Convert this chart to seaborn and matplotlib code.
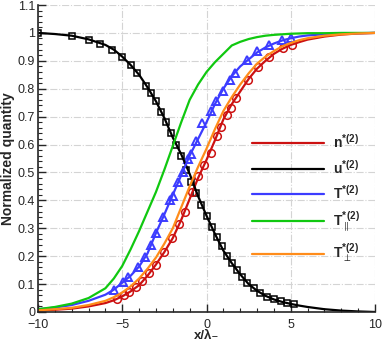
import numpy as np
import pandas as pd
import matplotlib
matplotlib.use('Agg')
import matplotlib.pyplot as plt
import seaborn as sns
from matplotlib.ticker import MultipleLocator

# profile curves (x/lambda)
x_line = [-10, -9, -8, -7, -6, -5.5, -5, -4.5, -4, -3.5, -3, -2.5, -2, -1.5, -1, -0.5,
          0, 0.5, 1, 1.5, 2, 2.5, 3, 3.5, 4, 4.5, 5, 5.5, 6, 7, 8, 9, 10]
n_line = [0.005, 0.008, 0.012, 0.02, 0.032, 0.042, 0.056, 0.074, 0.096, 0.13, 0.17, 0.215, 0.265,
          0.33, 0.405, 0.48, 0.545, 0.615, 0.69, 0.745, 0.79, 0.835, 0.872, 0.9, 0.925, 0.943,
          0.957, 0.967, 0.976, 0.987, 0.994, 0.998, 1.0]
u_line = [1.0, 0.996, 0.99, 0.977, 0.957, 0.94, 0.915, 0.885, 0.85, 0.805, 0.755, 0.695, 0.625,
          0.565, 0.495, 0.415, 0.345, 0.28, 0.22, 0.175, 0.135, 0.1, 0.076, 0.058, 0.045, 0.036,
          0.029, 0.023, 0.018, 0.01, 0.005, 0.002, 0.0]
T_line = [0.01, 0.016, 0.025, 0.04, 0.062, 0.08, 0.105, 0.13, 0.163, 0.21, 0.283, 0.35, 0.42,
          0.49, 0.56, 0.62, 0.68, 0.745, 0.8, 0.845, 0.88, 0.905, 0.93, 0.948, 0.962, 0.973,
          0.981, 0.987, 0.991, 0.995, 0.998, 0.999, 1.0]
Tpar_line = [0.01, 0.018, 0.03, 0.05, 0.085, 0.12, 0.165, 0.225, 0.29, 0.36, 0.43, 0.51, 0.595,
             0.68, 0.76, 0.815, 0.86, 0.895, 0.925, 0.955, 0.968, 0.978, 0.985, 0.99, 0.993,
             0.995, 0.997, 0.998, 0.999, 0.999, 1.0, 1.0, 1.0]
Tperp_line = [0.006, 0.01, 0.015, 0.025, 0.04, 0.053, 0.07, 0.092, 0.12, 0.155, 0.195, 0.245,
              0.3, 0.375, 0.45, 0.52, 0.585, 0.655, 0.72, 0.77, 0.815, 0.855, 0.89, 0.915, 0.935,
              0.952, 0.964, 0.974, 0.981, 0.99, 0.995, 0.998, 1.0]

# symbols (particle data)
n_pts_x = [-5.3, -4.9, -4.6, -4.2, -3.8, -3.4, -3.0, -2.55, -2.05, -1.65, -1.25, -0.85, -0.5,
           -0.17, 0.24, 0.65, 0.85, 1.2, 1.45, 1.78, 2.45, 3.05, 3.7, 4.55, 5.1]
n_pts = [0.047, 0.06, 0.072, 0.09, 0.11, 0.14, 0.17, 0.215, 0.265, 0.315, 0.36, 0.43, 0.487,
         0.527, 0.57, 0.63, 0.663, 0.706, 0.731, 0.767, 0.83, 0.878, 0.914, 0.946, 0.957]
u_pts_x = [-10, -8, -7, -6.3, -5.6, -5.0, -4.5, -4.1, -3.6, -3.3, -3.0, -2.7, -2.4, -2.1, -1.8,
           -1.5, -1.2, -0.9, -0.6, -0.3, 0.0, 0.3, 0.6, 0.9, 1.2, 1.5, 1.8, 2.1, 2.4, 2.8, 3.2,
           3.6, 4.0, 4.4, 4.8, 5.2]
u_pts = [1.0, 0.99, 0.975, 0.96, 0.94, 0.915, 0.885, 0.857, 0.81, 0.785, 0.755, 0.715, 0.68,
         0.64, 0.6, 0.56, 0.51, 0.465, 0.425, 0.385, 0.345, 0.305, 0.27, 0.235, 0.2, 0.175, 0.15,
         0.125, 0.105, 0.085, 0.068, 0.055, 0.045, 0.038, 0.033, 0.029]
T_pts_x = [-5.5, -4.95, -4.65, -4.05, -3.65, -3.3, -3.0, -2.6, -2.15, -2.0, -1.7, -1.4, -1.1,
           -0.9, -0.6, -0.24, 0.24, 0.55, 0.95, 1.4, 1.7, 2.4, 3.0, 3.7, 4.5, 5.0]
T_pts = [0.079, 0.107, 0.125, 0.161, 0.197, 0.24, 0.283, 0.34, 0.4, 0.415, 0.466, 0.5, 0.55,
         0.565, 0.612, 0.677, 0.72, 0.756, 0.792, 0.83, 0.857, 0.903, 0.935, 0.957, 0.975, 0.982]

labels = [r'$\mathbf{n}^{\mathbf{*(2)}}$', r'$\mathbf{u}^{\mathbf{*(2)}}$',
          r'$\mathbf{T}^{\mathbf{*(2)}}$', r'$\mathbf{T}^{\mathbf{*\,(2)}}_{\parallel}$',
          r'$\mathbf{T}^{\mathbf{*(2)}}_{\perp}$']
colors = ['#cc1111', '#000000', '#3c3cff', '#10c810', '#ff8c1a']

sns.set_style('ticks')
plt.rcParams['font.family'] = ['Liberation Sans', 'DejaVu Sans']
plt.rcParams['mathtext.fontset'] = 'custom'
plt.rcParams['mathtext.rm'] = 'Liberation Sans'
plt.rcParams['mathtext.it'] = 'Liberation Sans:italic'
plt.rcParams['mathtext.bf'] = 'Liberation Sans:bold'

fig = plt.figure(figsize=(3.82, 3.41), dpi=100)
ax = fig.add_axes([38 / 382, 29 / 341, 337 / 382, 307 / 341])

ax.grid(True, which='major', color='#d4d4d4', linestyle='-.', linewidth=0.8)
ax.set_axisbelow(True)

# symbols under the lines
sns.lineplot(x=u_pts_x, y=u_pts, ax=ax, color='k', linestyle='none', marker='s',
             markersize=4.5, markerfacecolor='none', markeredgecolor='k', markeredgewidth=1.1,
             sort=False)
sns.lineplot(x=n_pts_x, y=n_pts, ax=ax, color=colors[0], linestyle='none', marker='o',
             markersize=5.5, markerfacecolor='none', markeredgecolor=colors[0],
             markeredgewidth=1.1, sort=False)
sns.lineplot(x=T_pts_x, y=T_pts, ax=ax, color=colors[2], linestyle='none', marker='^',
             markersize=5.5, markerfacecolor='none', markeredgecolor=colors[2],
             markeredgewidth=1.4, sort=False)

series = [n_line, u_line, T_line, Tpar_line, Tperp_line]
for ys, lab, c in zip(series, labels, colors):
    sns.lineplot(x=x_line, y=ys, ax=ax, color=c, linewidth=1.6, label=lab, sort=False)

ax.set_xlim(-10, 10)
ax.set_ylim(0, 1.1)
ax.xaxis.set_major_locator(MultipleLocator(5))
ax.xaxis.set_minor_locator(MultipleLocator(1))
ax.yaxis.set_major_locator(MultipleLocator(0.1))
ax.yaxis.set_minor_locator(MultipleLocator(0.02))
ax.set_yticks(np.round(np.arange(0, 1.11, 0.1), 1))
ax.set_yticklabels(['0', '0.1', '0.2', '0.3', '0.4', '0.5', '0.6', '0.7', '0.8', '0.9', '1', '1.1'])
ax.tick_params(which='major', direction='in', length=6, width=1, labelsize=9, pad=2)
ax.tick_params(axis='x', which='major', pad=5)
ax.tick_params(which='minor', direction='in', length=3, width=0.8)
for s in ['top', 'right']:
    ax.spines[s].set_visible(False)
for s in ['left', 'bottom']:
    ax.spines[s].set_linewidth(1.2)

ax.set_xlabel('x/λ₋', fontsize=9.5, fontweight='bold', labelpad=-1)
ax.set_ylabel('Normalized quantity', fontsize=10, fontweight='bold', labelpad=2)

leg = ax.legend(loc='upper left', bbox_to_anchor=(0.615, 0.605), frameon=False, fontsize=10,
                handlelength=5.2, handletextpad=0.6, labelspacing=0.55, borderpad=0)

fig.savefig('out.png', dpi=100)
